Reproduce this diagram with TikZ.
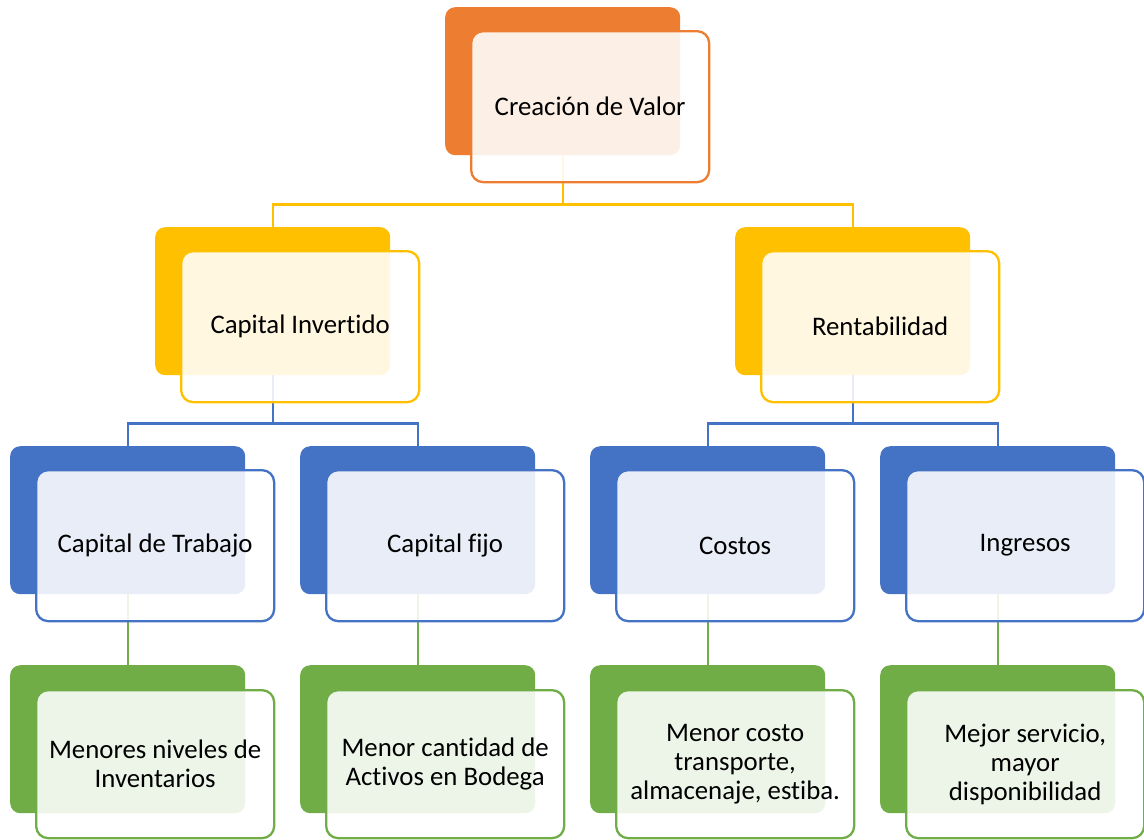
\documentclass[tikz,border=0pt]{standalone}
\usepackage{fontspec}
\setmainfont{Carlito}[Ligatures=NoCommon]
\definecolor{corange}{HTML}{ED7D31}
\definecolor{cyellow}{HTML}{FFC000}
\definecolor{cblue}{HTML}{4472C4}
\definecolor{cgreen}{HTML}{70AD47}
\tikzset{
  backbox/.style={rectangle, rounded corners=10pt, fill=#1, draw=none,
    minimum width=235pt, minimum height=148pt, inner sep=0pt, anchor=north west},
  frontbox/.style={rectangle, rounded corners=12pt, draw=#1, line width=2.3pt,
    fill=white, fill opacity=0.88, text opacity=1,
    minimum width=238pt, minimum height=151pt, inner sep=0pt, anchor=north west,
    align=center, font=\fontsize{26.8}{29}\selectfont, text=black},
  link/.style={draw=#1, line width=2.3pt},
}
\begin{document}
\begin{tikzpicture}[x=1pt, y=-1pt]
\useasboundingbox (0,0) rectangle (1144,839);

% solid back plates
\node[backbox=corange] (b0) at (445,7) {};
\node[backbox=cyellow] (b1) at (155,227) {};
\node[backbox=cyellow] (b2) at (735,227) {};
\node[backbox=cblue] (b11) at (10,446) {};
\node[backbox=cblue] (b12) at (300,446) {};
\node[backbox=cblue] (b21) at (590,446) {};
\node[backbox=cblue] (b22) at (880,446) {};
\node[backbox=cgreen] (b111) at (10,665) {};
\node[backbox=cgreen] (b121) at (300,665) {};
\node[backbox=cgreen] (b211) at (590,665) {};
\node[backbox=cgreen] (b221) at (880,665) {};

% connectors between the plates
\draw[link=cyellow] (b0.south) -- ++(0,49) -| (b1.north);
\draw[link=cyellow] (b0.south) -- ++(0,49) -| (b2.north);
\draw[link=cblue] (b1.south) -- ++(0,48) -| (b11.north);
\draw[link=cblue] (b1.south) -- ++(0,48) -| (b12.north);
\draw[link=cblue] (b2.south) -- ++(0,48) -| (b21.north);
\draw[link=cblue] (b2.south) -- ++(0,48) -| (b22.north);
\draw[link=cgreen] (b11.south) -- (b111.north);
\draw[link=cgreen] (b12.south) -- (b121.north);
\draw[link=cgreen] (b21.south) -- (b211.north);
\draw[link=cgreen] (b22.south) -- (b221.north);

% translucent front cards with the labels
\node[frontbox=corange] (f0) at (470,30) {Creación de Valor};
\node[frontbox=cyellow] (f1) at (180,250) {Capital Invertido};
\node[frontbox=cyellow] (f2) at (760,250) {Rentabilidad};
\node[frontbox=cblue] (f11) at (35,469) {Capital de Trabajo};
\node[frontbox=cblue] (f12) at (325,469) {Capital fijo};
\node[frontbox=cblue] (f21) at (615,469) {Costos};
\node[frontbox=cblue] (f22) at (905,469) {Ingresos};
\node[frontbox=cgreen, minimum height=148pt] (f111) at (35,689) {Menores niveles de\\Inventarios};
\node[frontbox=cgreen, minimum height=148pt] (f121) at (325,689) {Menor cantidad de\\Activos en Bodega};
\node[frontbox=cgreen, minimum height=148pt] (f211) at (615,689) {Menor costo\\transporte,\\almacenaje, estiba.};
\node[frontbox=cgreen, minimum height=148pt] (f221) at (905,689) {Mejor servicio,\\mayor\\disponibilidad};
\end{tikzpicture}
\end{document}
